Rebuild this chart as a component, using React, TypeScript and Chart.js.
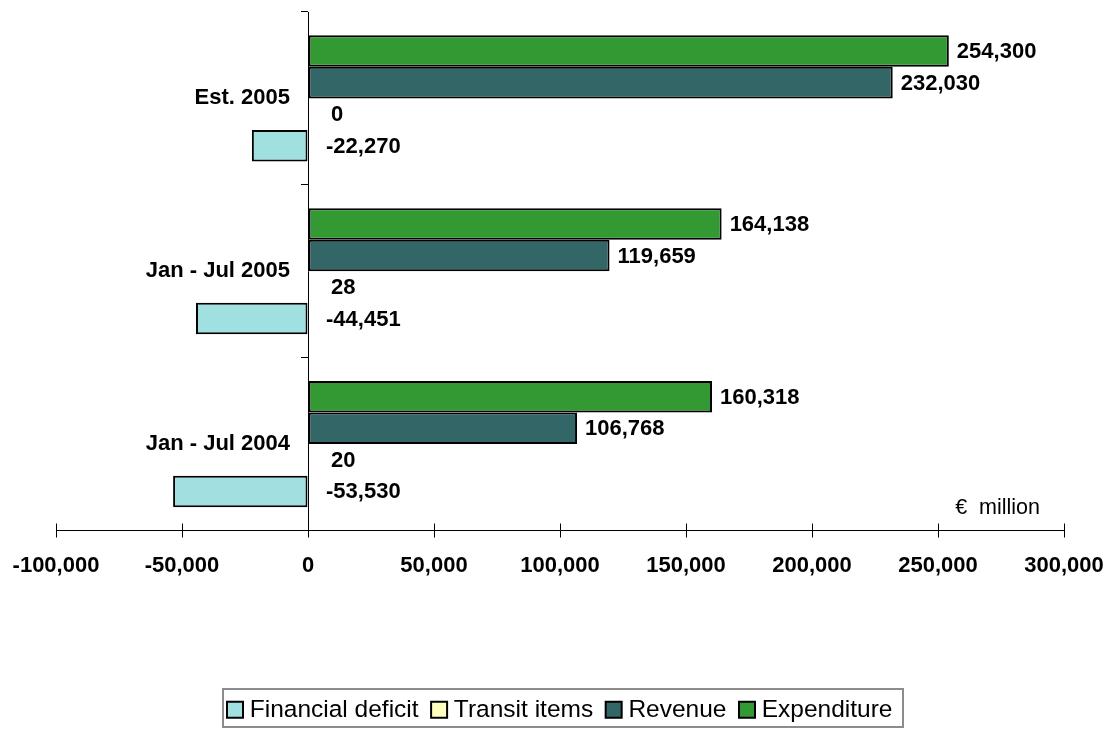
import React, { useEffect, useRef } from "react";
import { Chart, registerables } from "chart.js";

Chart.register(...registerables);

const categories = ["Est. 2005", "Jan - Jul 2005", "Jan - Jul 2004"];
const expenditure = [254300, 164138, 160318];
const revenue = [232030, 119659, 106768];
const transitItems = [0, 28, 20];
const financialDeficit = [-22270, -44451, -53530];
const xTickMin = -100000;
const xTickMax = 300000;
const xTickStep = 50000;
const unitLabel = "€  million";

const FONT = "'Liberation Sans', Arial, Helvetica, sans-serif";
const fmt = (v: number) => Number(v).toLocaleString("en-US");

const valueLabels = {
  id: "valueLabels",
  afterDatasetsDraw(chart: any) {
    const ctx = chart.ctx;
    const xs = chart.scales.x;
    const zero = xs.getPixelForValue(0);
    ctx.save();
    ctx.font = `bold 22px ${FONT}`;
    ctx.fillStyle = "#000";
    ctx.textBaseline = "middle";
    ctx.textAlign = "left";
    chart.data.datasets.forEach((ds: any, di: number) => {
      const meta = chart.getDatasetMeta(di);
      meta.data.forEach((el: any, i: number) => {
        const v = ds.data[i];
        const x = v >= 1000 ? el.x + 8 : zero + (v < 0 ? 18 : 23);
        ctx.fillText(fmt(v), x, el.y + 1);
      });
    });
    ctx.restore();
  },
};

const shiftYLabels = {
  id: "shiftYLabels",
  beforeDraw(chart: any) {
    const ys = chart.scales.y;
    const items = ys.getLabelItems();
    items.forEach((it: any) => {
      if (!it._shifted) {
        it.options.translation[0] -= 18;
        it._shifted = true;
      }
    });
  },
};

const extras = {
  id: "extras",
  afterDraw(chart: any) {
    const ctx = chart.ctx;
    const xs = chart.scales.x;
    const area = chart.chartArea;
    ctx.save();
    ctx.strokeStyle = "#000";
    ctx.lineWidth = 1;
    ctx.beginPath();
    xs.ticks.forEach((t: any) => {
      const px = Math.round(xs.getPixelForValue(t.value)) + 0.5;
      ctx.moveTo(px, area.bottom - 7);
      ctx.lineTo(px, area.bottom);
    });
    ctx.stroke();
    ctx.font = `21.5px ${FONT}`;
    ctx.fillStyle = "#000";
    ctx.textAlign = "right";
    ctx.textBaseline = "middle";
    ctx.fillText(unitLabel, area.right - 24, area.bottom - 22);
    const lg = chart.legend;
    if (lg && lg.legendHitBoxes && lg.legendHitBoxes.length) {
      const hb = lg.legendHitBoxes;
      let l = Infinity, r = -Infinity, cy = 0;
      hb.forEach((b: any) => {
        l = Math.min(l, b.left);
        r = Math.max(r, b.left + b.width);
        cy = b.top + b.height / 2;
      });
      ctx.strokeStyle = "#8c8c8c";
      ctx.lineWidth = 2;
      const x0 = Math.round(l - 9.5);
      ctx.strokeRect(x0, Math.round(cy - 20.5), Math.round(r + 11 - x0), 38);
    }
    ctx.restore();
  },
};

export default function App() {
  const ref = useRef<HTMLCanvasElement | null>(null);
  useEffect(() => {
    if (!ref.current) return;
    const font = { family: FONT, size: 22, weight: "bold" as const };
    const common = { borderColor: "#000", borderWidth: 2, borderSkipped: false, categoryPercentage: 0.73, barPercentage: 1.0 };
    const chart = new Chart(ref.current, {
      type: "bar",
      data: {
        labels: categories,
        datasets: [
          { label: "Expenditure", data: expenditure, backgroundColor: "#339933", ...common },
          { label: "Revenue", data: revenue, backgroundColor: "#336666", ...common },
          { label: "Transit items", data: transitItems, backgroundColor: "#ffffc0", ...common },
          { label: "Financial deficit", data: financialDeficit, backgroundColor: "#a0e0e0", ...common },
        ],
      } as any,
      options: {
        indexAxis: "y",
        animation: false,
        responsive: true,
        maintainAspectRatio: false,
        layout: { padding: { left: 50, right: 36, top: 12, bottom: -3 } },
        scales: {
          x: {
            min: xTickMin,
            max: xTickMax,
            ticks: { stepSize: xTickStep, font, color: "#000", padding: 15, callback: (v: any) => fmt(v), maxRotation: 0 },
            grid: { drawOnChartArea: false, tickLength: 7, color: "#000" },
            border: { color: "#000", width: 1 },
            afterFit(s: any) {
              s.height = 149;
              s.paddingLeft = 56;
              s.paddingRight = 47;
            },
          },
          y: {
            position: { x: 0 },
            ticks: { font, color: "#000", padding: 11 },
            grid: { drawOnChartArea: false, tickLength: 7, color: "#000", offset: true },
            border: { color: "#000", width: 1 },
            afterFit(s: any) {
              s.width = 0;
              s.paddingTop = 0;
              s.paddingBottom = 0;
            },
          },
        } as any,
        plugins: {
          legend: {
            position: "bottom",
            reverse: true,
            labels: {
              font: { family: FONT, size: 24.5 },
              color: "#000",
              usePointStyle: true,
              pointStyle: "rect",
              boxWidth: 5,
              boxHeight: 16,
              padding: 18,
            },
          },
          tooltip: { enabled: false },
        },
      },
      plugins: [shiftYLabels, valueLabels, extras],
    });
    return () => chart.destroy();
  }, []);
  return (
    <div style={{ position: "fixed", left: 0, top: 0, width: 1111, height: 729, background: "#fff" }}>
      <canvas ref={ref} />
    </div>
  );
}
